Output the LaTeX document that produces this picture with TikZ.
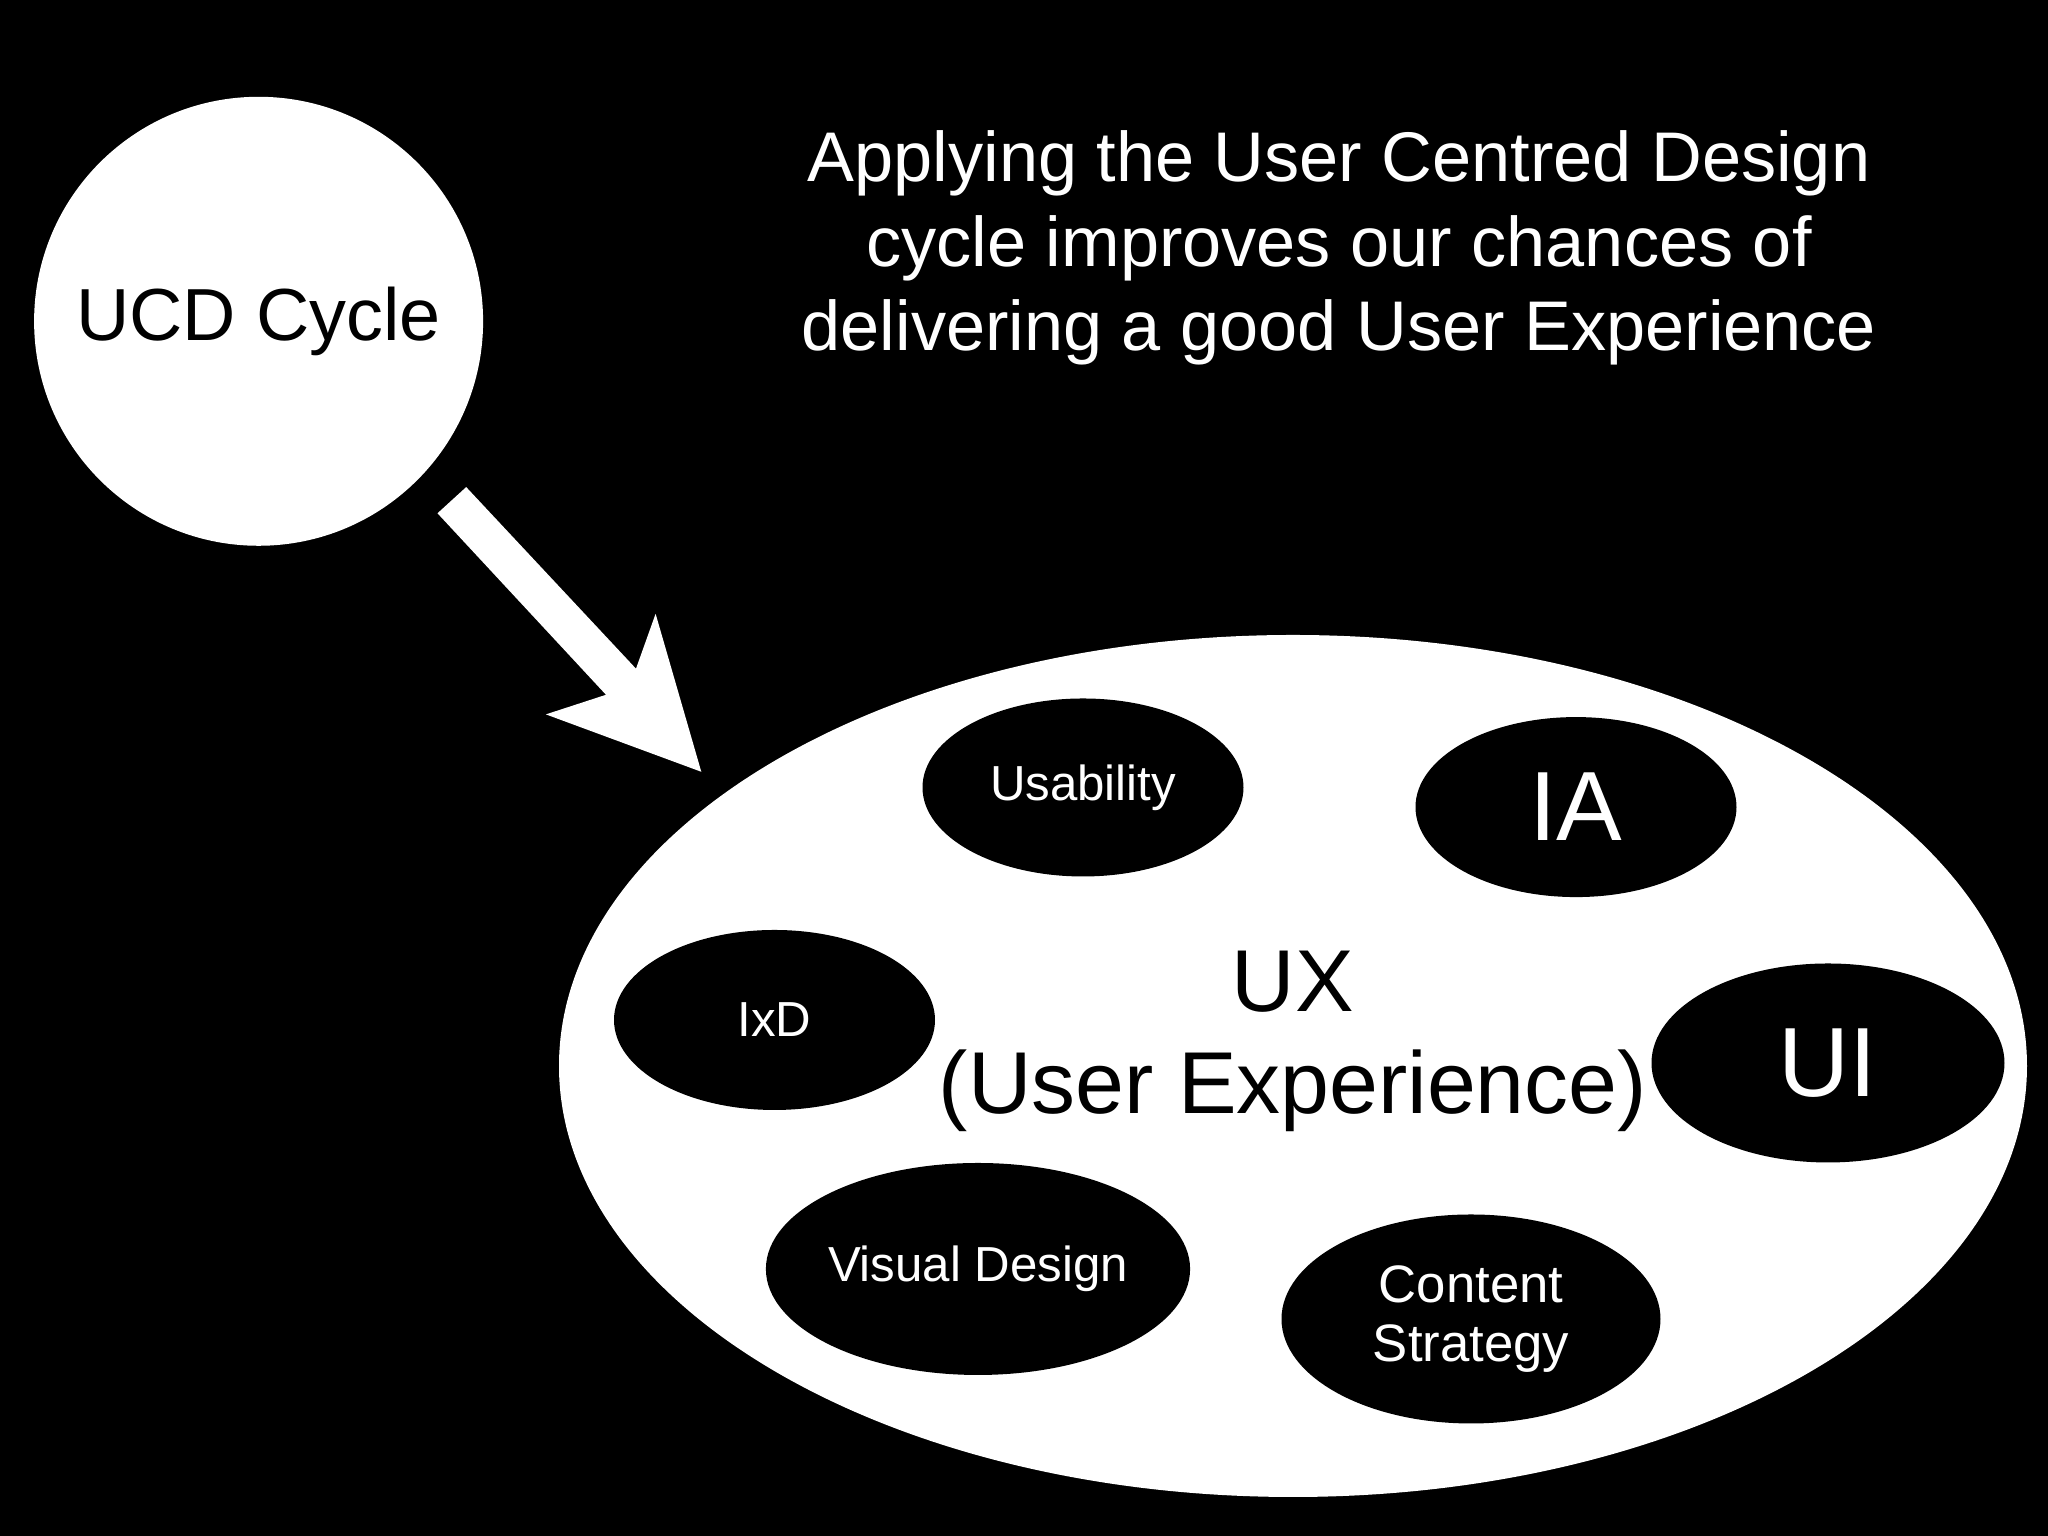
\documentclass[tikz,border=0pt]{standalone}
\usepackage{fontspec}
\setmainfont{Liberation Sans}
\usetikzlibrary{shapes.geometric}
\tikzset{
  part/.style={ellipse, fill=black, text=white, inner sep=0pt, align=center},
  fsize/.style 2 args={font=\fontsize{#1}{#2}\selectfont}
}
\begin{document}
\begin{tikzpicture}
    \fill[black] (0,0) rectangle (20.48,15.36);
    \useasboundingbox (0,0) rectangle (20.48,15.36);

    \node (ucd) [circle, fill=white, minimum size=4.49cm, inner sep=0pt,
        fsize={21}{25}] at (2.586,12.147) {UCD Cycle};
    \node (title) [text=white, align=center, fsize={20}{24}] at (13.39,12.88)
        {Applying the User Centred Design\\cycle improves our chances of\\delivering a good User Experience};

    \node (ux) [ellipse, fill=white, minimum width=14.68cm, minimum height=8.62cm,
        inner sep=0pt] at (12.93,4.70) {};
    \node (uxlabel) [align=center, fsize={25}{29}] at (12.93,4.95) {UX\\(User Experience)};

    \node (usab) [part, minimum width=3.21cm, minimum height=1.78cm, fsize={14}{17}] at (10.83,7.485) {Usability};
    \node (ia) [part, minimum width=3.21cm, minimum height=1.80cm, fsize={28}{33}] at (15.76,7.289) {IA};
    \node (ixd) [part, minimum width=3.21cm, minimum height=1.80cm, fsize={14}{17}] at (7.745,5.16) {IxD};
    \node (ui) [part, minimum width=3.53cm, minimum height=1.99cm, fsize={28}{33}] at (18.28,4.73) {UI};
    \node (visual) [part, minimum width=3.76cm, minimum height=2.12cm, fsize={14}{17}] at (9.78,2.67) {Visual Design};
    \node (content) [part, minimum width=3.79cm, minimum height=2.09cm, fsize={15}{17}] at (14.71,2.17) {Content\\Strategy};

    % block arrow
    \coordinate (s1) at (4.375,10.227);
    \coordinate (s2) at (4.662,10.489);
    \coordinate (s3) at (6.360,8.673);
    \coordinate (h1) at (6.556,9.222);
    \coordinate (tip) at (7.013,7.642);
    \coordinate (h2) at (5.459,8.216);
    \coordinate (s4) at (6.060,8.412);
    \fill[white] (s1) -- (s2) -- (s3) -- (h1) -- (tip) -- (h2) -- (s4) -- cycle;
\end{tikzpicture}
\end{document}
